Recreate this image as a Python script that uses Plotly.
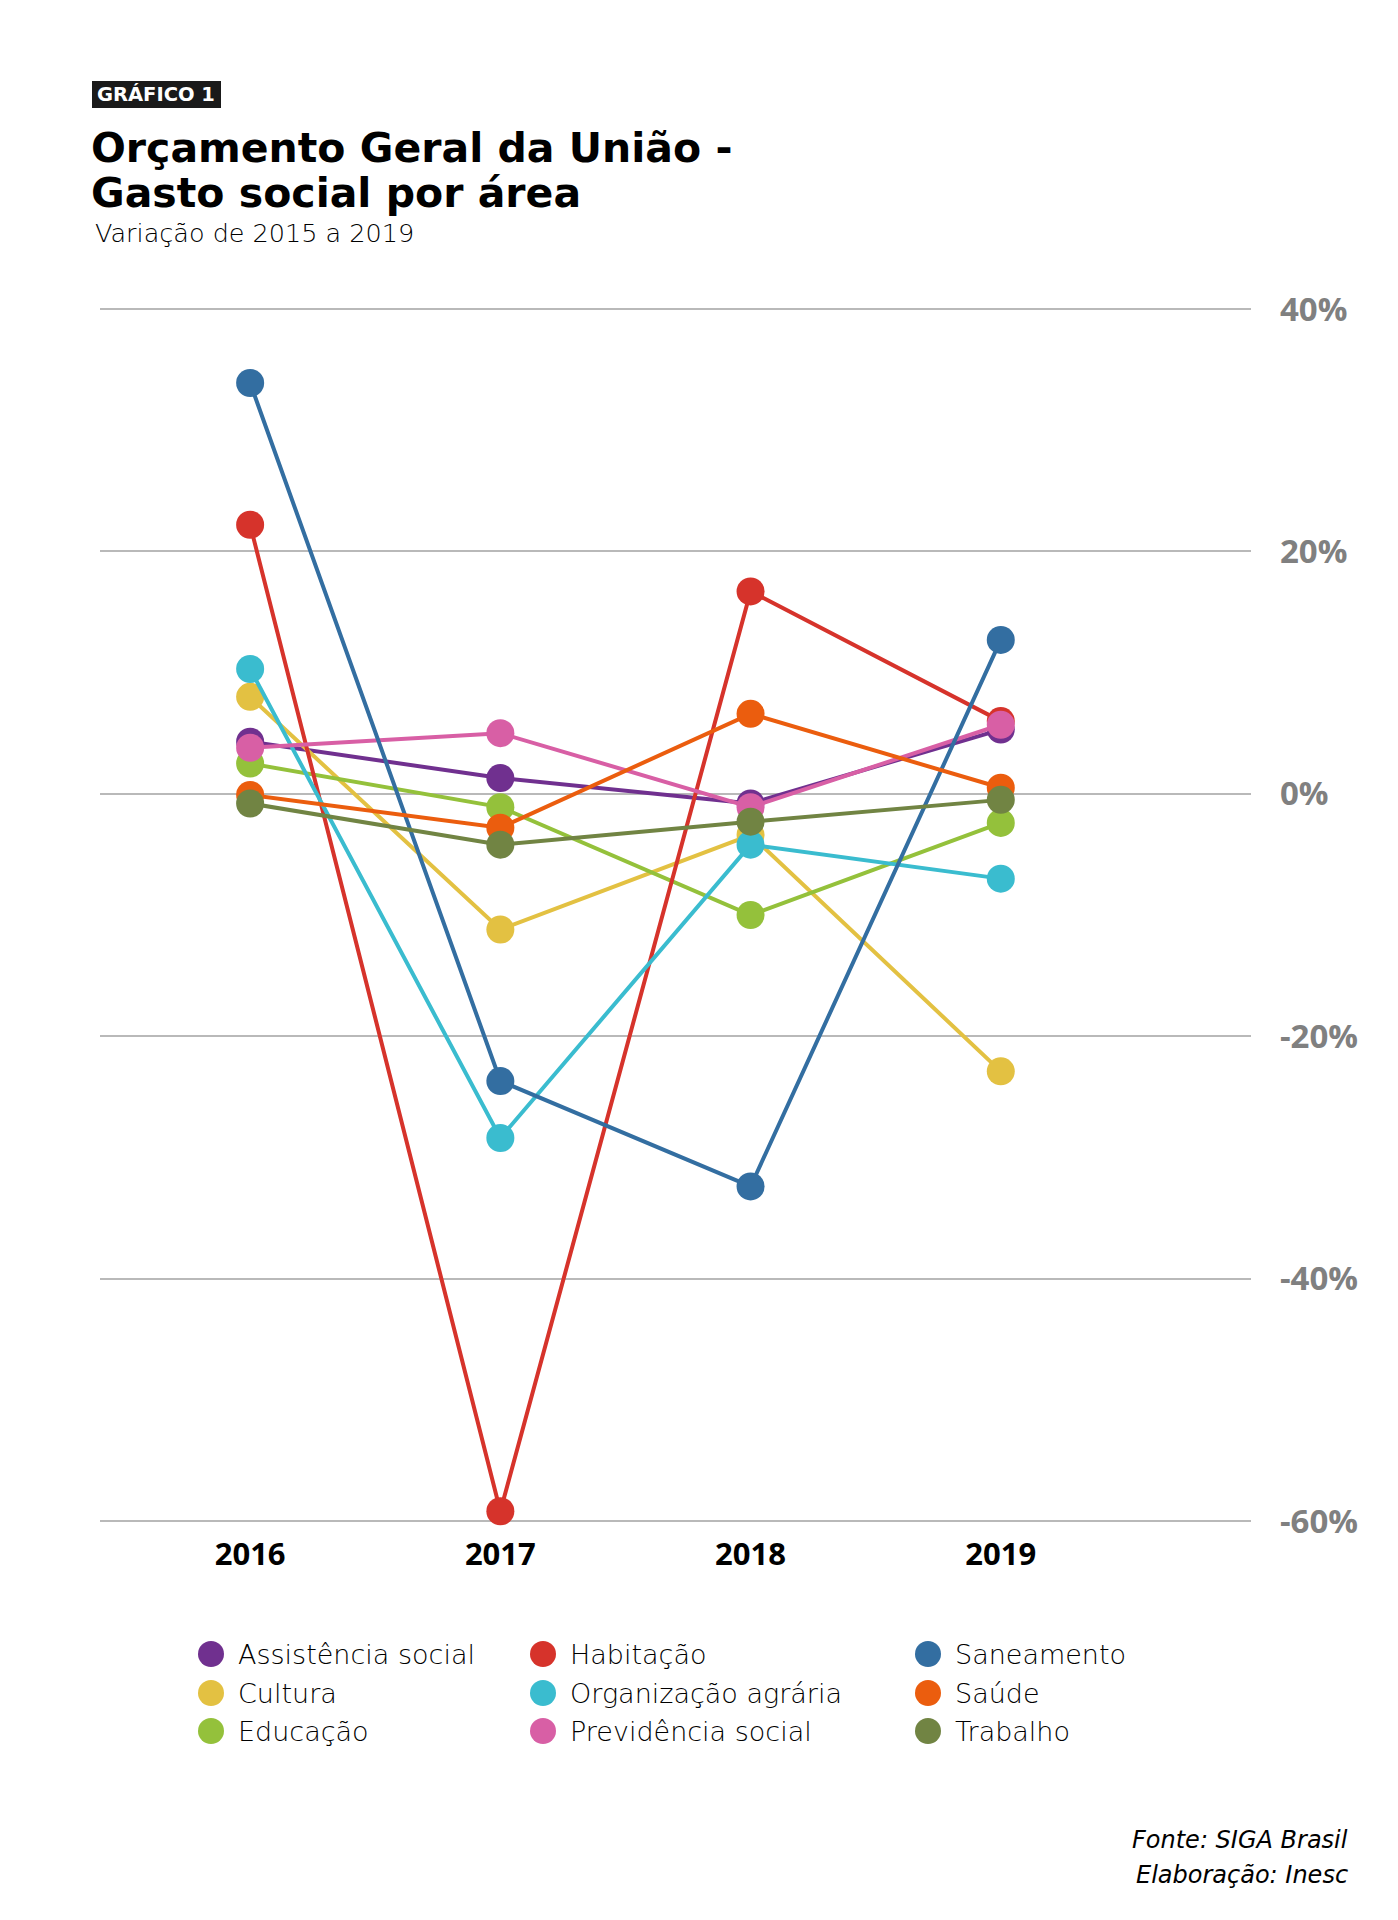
import plotly.graph_objects as go

# dados (variação % em relação ao ano anterior)
anos = ['2016', '2017', '2018', '2019']

assistencia_social = [4.3, 1.3, -0.8, 5.3]
cultura = [8.0, -11.2, -3.4, -22.9]
educacao = [2.5, -1.1, -10.0, -2.4]
habitacao = [22.2, -59.2, 16.7, 6.0]
organizacao_agraria = [10.3, -28.4, -4.2, -7.0]
previdencia_social = [3.8, 5.0, -1.1, 5.7]
saneamento = [33.9, -23.7, -32.4, 12.7]
saude = [-0.1, -2.8, 6.6, 0.5]
trabalho = [-0.8, -4.2, -2.3, -0.5]

nomes = ['Assistência social', 'Cultura', 'Educação', 'Habitação',
         'Organização agrária', 'Previdência social', 'Saneamento',
         'Saúde', 'Trabalho']
series = [assistencia_social, cultura, educacao, habitacao,
          organizacao_agraria, previdencia_social, saneamento, saude, trabalho]
cores = ['#70308f', '#e3c142', '#94c13b', '#d6332b', '#3abccf',
         '#d85fa5', '#336ea1', '#eb5d0e', '#718443']

y_ticks = [40, 20, 0, -20, -40, -60]
y_labels = ['40%', '20%', '0%', '-20%', '-40%', '-60%']

OFF = 8  # margem padrão do <body> na página
W, H = 1398 - 2 * OFF, 1920 - 2 * OFF
# posições em pixels da página; área do gráfico um pouco maior que as grades extremas
L, R, T, B = 100 - OFF, 1251 - OFF, 303 - OFF, 1527 - OFF
FONT = 'Open Sans'
FONT2 = 'DejaVu Sans'


def px(x, y):
    # pixel da página -> coordenadas paper
    x, y = x - OFF, y - OFF
    return (x - L) / (R - L), (B - y) / (B - T)


fig = go.Figure()
for nome, valores, cor in zip(nomes, series, cores):
    fig.add_trace(go.Scatter(
        x=anos, y=valores, name=nome, mode='lines+markers',
        line=dict(color=cor, width=4),
        marker=dict(color=cor, size=28),
        cliponaxis=False, showlegend=False,
    ))

shapes = []
annotations = []


def texto(t, x, y, size, weight=400, color='#000000', anchor='left', family=FONT2):
    ax, ay = px(x, y)
    annotations.append(dict(text=t, x=ax, y=ay, xref='paper', yref='paper',
                            xanchor=anchor, yanchor='middle', showarrow=False,
                            font=dict(family=family, size=size, color=color, weight=weight)))


# etiqueta GRÁFICO 1
x0, y0 = px(92, 108)
x1, y1 = px(221, 81)
shapes.append(dict(type='rect', xref='paper', yref='paper', x0=x0, y0=y0,
                   x1=x1, y1=y1, fillcolor='#1a1a1a', line=dict(width=0)))
texto('GRÁFICO 1', 156, 95, 19.5, 700, 'white', 'center')

# título e subtítulo
texto('Orçamento Geral da União -', 89, 148, 41, 700)
texto('Gasto social por área', 89, 193, 41, 700)
texto('Variação de 2015 a 2019', 93, 233, 25.5, 300)

# legenda em três colunas
col_x = [211, 543, 928]
row_y = [1654, 1693, 1731]
for i, (nome, cor) in enumerate(zip(nomes, cores)):
    cx, cy = col_x[i // 3], row_y[i % 3]
    ax, ay = px(cx, cy)
    shapes.append(dict(type='circle', xref='paper', yref='paper',
                       xsizemode='pixel', ysizemode='pixel',
                       xanchor=ax, yanchor=ay, x0=-13, x1=13, y0=-13, y1=13,
                       fillcolor=cor, line=dict(width=0)))
    texto(nome, cx + 25, cy, 27, 300)

# fonte
texto('<i>Fonte: SIGA Brasil</i>', 1350, 1840, 24, 300, anchor='right')
texto('<i>Elaboração: Inesc</i>', 1350, 1875, 24, 300, anchor='right')

fig.update_layout(
    width=W, height=H,
    margin=dict(l=L, r=W - R, t=T, b=H - B, pad=0),
    plot_bgcolor='white', paper_bgcolor='white',
    shapes=shapes, annotations=annotations,
    font=dict(family=FONT),
)
fig.update_xaxes(
    type='category', range=[-0.6, 4.0], showgrid=False, showline=False,
    zeroline=False, ticks='', ticklabelstandoff=6,
    tickfont=dict(family=FONT, size=31, color='black', weight=700),
)
fig.update_yaxes(
    side='right', range=[-60.5, 40.5], tickvals=y_ticks, ticktext=y_labels,
    showgrid=True, gridcolor='#b9b9b9', gridwidth=1.5, zeroline=False,
    showline=False, ticks='', ticklabelstandoff=28,
    tickfont=dict(family=FONT, size=33, color='#808080', weight=700),
)

fig.write_html('out.html')
